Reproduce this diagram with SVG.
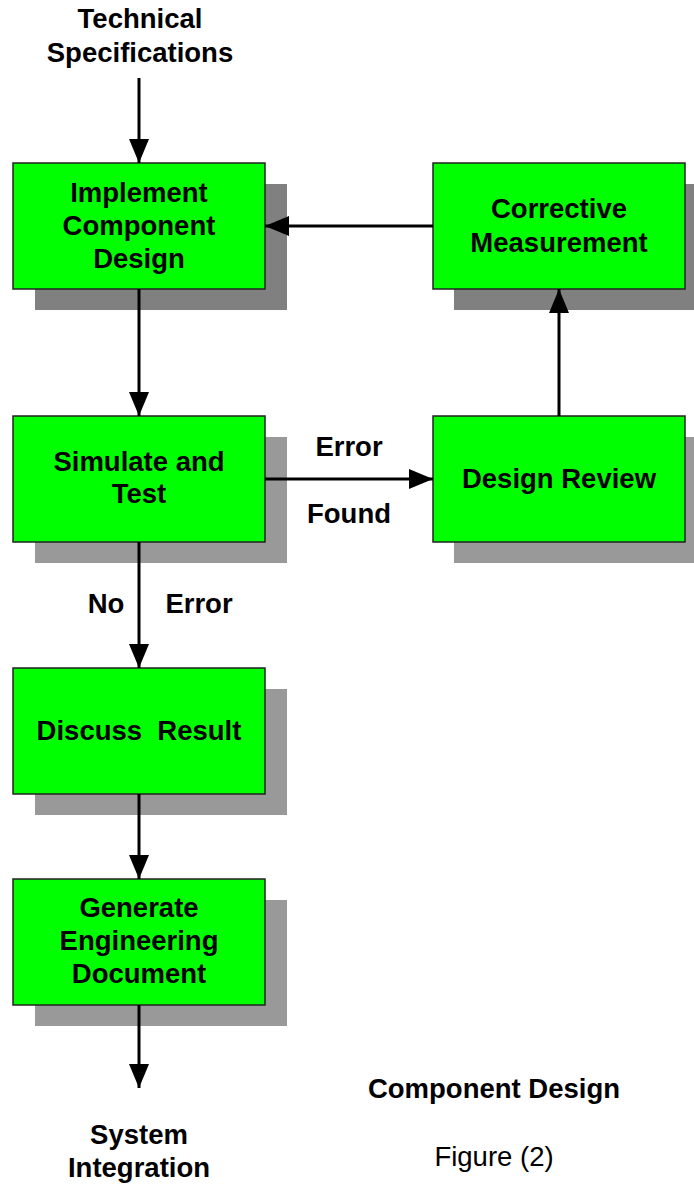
<svg xmlns="http://www.w3.org/2000/svg" width="694" height="1184" viewBox="0 0 694 1184">
  <style>
    .box { fill: #00ff00; stroke: #222; stroke-width: 1.5; }
    .shadow-dark { fill: #808080; }
    .shadow { fill: #999999; }
    .lbl { font-family: "Liberation Sans", Arial, sans-serif; font-weight: bold; font-size: 27.5px; fill: #000; text-anchor: middle; }
    .plain { font-family: "Liberation Sans", Arial, sans-serif; font-size: 27.5px; fill: #000; text-anchor: middle; }
    .wire { stroke: #000; stroke-width: 3; fill: none; marker-end: url(#head); }
  </style>
  <defs>
    <marker id="head" viewBox="0 0 24 20" refX="24" refY="10" markerWidth="24" markerHeight="20" markerUnits="userSpaceOnUse" orient="auto">
      <path d="M0,0 L24,10 L0,20 Z" fill="#000"/>
    </marker>
  </defs>

  <rect width="694" height="1184" fill="#fff"/>

  <g id="input">
    <text class="lbl" x="140" y="28">Technical</text>
    <text class="lbl" x="140" y="62">Specifications</text>
  </g>

  <g id="implement">
    <rect class="shadow-dark" x="35" y="184" width="252" height="126"/>
    <rect class="box" x="13" y="163" width="252" height="126"/>
    <text class="lbl" x="139" y="202">Implement</text>
    <text class="lbl" x="139" y="235">Component</text>
    <text class="lbl" x="139" y="268">Design</text>
  </g>

  <g id="corrective">
    <rect class="shadow-dark" x="454" y="184" width="240" height="126"/>
    <rect class="box" x="433" y="163" width="252" height="126"/>
    <text class="lbl" x="559" y="218">Corrective</text>
    <text class="lbl" x="559" y="252">Measurement</text>
  </g>

  <g id="simulate">
    <rect class="shadow" x="35" y="437" width="252" height="126"/>
    <rect class="box" x="13" y="416" width="252" height="126"/>
    <text class="lbl" x="139" y="471">Simulate and</text>
    <text class="lbl" x="139" y="503">Test</text>
  </g>

  <g id="review">
    <rect class="shadow" x="454" y="437" width="240" height="126"/>
    <rect class="box" x="433" y="416" width="252" height="126"/>
    <text class="lbl" x="559" y="488">Design Review</text>
  </g>

  <g id="discuss">
    <rect class="shadow" x="35" y="689" width="252" height="126"/>
    <rect class="box" x="13" y="668" width="252" height="126"/>
    <text class="lbl" x="139" y="740" xml:space="preserve">Discuss  Result</text>
  </g>

  <g id="generate">
    <rect class="shadow" x="35" y="900" width="252" height="126"/>
    <rect class="box" x="13" y="879" width="252" height="126"/>
    <text class="lbl" x="139" y="917">Generate</text>
    <text class="lbl" x="139" y="950">Engineering</text>
    <text class="lbl" x="139" y="983">Document</text>
  </g>

  <g id="output">
    <text class="lbl" x="139" y="1144">System</text>
    <text class="lbl" x="139" y="1177">Integration</text>
  </g>

  <g id="connectors">
    <line class="wire" x1="139" y1="78" x2="139" y2="163"/>
    <line class="wire" x1="139" y1="289" x2="139" y2="416"/>
    <line class="wire" x1="139" y1="542" x2="139" y2="668"/>
    <line class="wire" x1="139" y1="794" x2="139" y2="879"/>
    <line class="wire" x1="139" y1="1005" x2="139" y2="1088"/>
    <line class="wire" x1="265" y1="479" x2="433" y2="479"/>
    <line class="wire" x1="559" y1="416" x2="559" y2="289"/>
    <line class="wire" x1="433" y1="226" x2="265" y2="226"/>
  </g>

  <g id="edge-labels">
    <text class="lbl" x="349" y="456">Error</text>
    <text class="lbl" x="349" y="523">Found</text>
    <text class="lbl" x="106" y="613">No</text>
    <text class="lbl" x="199" y="613">Error</text>
  </g>

  <g id="caption">
    <text class="lbl" x="494" y="1098">Component Design</text>
    <text class="plain" x="494" y="1166">Figure (2)</text>
  </g>
</svg>
